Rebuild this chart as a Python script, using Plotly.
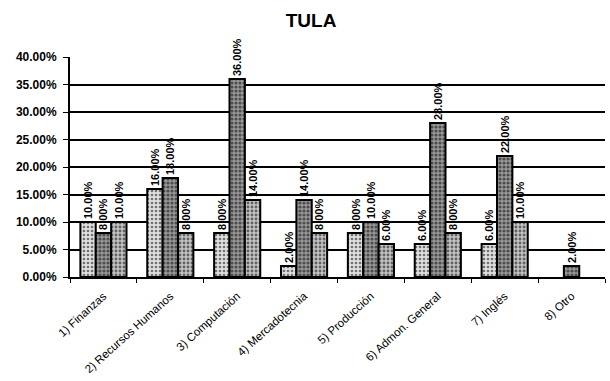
import plotly.graph_objects as go

# Areas of training requested, Tula
categories = [
    "1) Finanzas",
    "2) Recursos Humanos",
    "3) Computación",
    "4) Mercadotecnia",
    "5) Producción",
    "6) Admon. General",
    "7) Inglés",
    "8) Otro",
]

# Three response groups per area (fractions); blank cells are None
serie_a = [0.10, 0.16, 0.08, 0.02, 0.08, 0.06, 0.06, None]
serie_b = [0.08, 0.18, 0.36, 0.14, 0.10, 0.28, 0.22, 0.02]
serie_c = [0.10, 0.08, 0.14, 0.08, 0.06, 0.08, 0.10, None]

y_ticks = [0, 0.05, 0.10, 0.15, 0.20, 0.25, 0.30, 0.35, 0.40]

FONT = "Liberation Sans, Arial, sans-serif"

styles = [
    dict(bg="#e0e0e0", fg="#000000", solidity=0.35),
    dict(bg="#9a9a9a", fg="#000000", solidity=0.5),
    dict(bg="#c4c4c4", fg="#000000", solidity=0.4),
]

fig = go.Figure()
for vals, st in zip([serie_a, serie_b, serie_c], styles):
    fig.add_trace(go.Bar(
        x=categories,
        y=vals,
        marker=dict(
            color=st["bg"],
            line=dict(color="#000000", width=2),
            pattern=dict(shape=".", fgcolor=st["fg"], bgcolor=st["bg"],
                         size=4, solidity=st["solidity"]),
        ),
        texttemplate="%{y:.2%}",
        textposition="outside",
        textangle=-90,
        textfont=dict(family=FONT, size=11, color="#000000", weight="bold"),
        constraintext="none",
        cliponaxis=False,
        showlegend=False,
    ))

fig.update_layout(
    width=610,
    height=381,
    margin=dict(l=70, r=5, t=57, b=104),
    paper_bgcolor="#ffffff",
    plot_bgcolor="#ffffff",
    barmode="group",
    bargap=0.31,
    bargroupgap=0,
    title=dict(
        text="<b>TULA</b>",
        x=0.51, xanchor="center",
        y=0.947, yanchor="middle",
        font=dict(family=FONT, size=19, color="#000000"),
    ),
    font=dict(family=FONT, color="#000000"),
)

fig.update_xaxes(
    tickangle=-42,
    tickfont=dict(family=FONT, size=11.5, color="#000000"),
    ticklabelstandoff=6,
    showline=True, linecolor="#000000", linewidth=2,
    ticks="outside", tickson="boundaries", ticklen=4, tickcolor="#000000",
    showgrid=False,
)

fig.update_yaxes(
    range=[0, 0.40],
    tickvals=y_ticks,
    tickformat=".2%",
    tickfont=dict(family=FONT, size=12, color="#000000", weight="bold"),
    ticklabelstandoff=4,
    showline=True, linecolor="#000000", linewidth=2,
    ticks="outside", ticklen=5, tickcolor="#000000",
    showgrid=True, gridcolor="#000000", gridwidth=1.5,
    zeroline=False,
)

fig.write_html("out.html")
